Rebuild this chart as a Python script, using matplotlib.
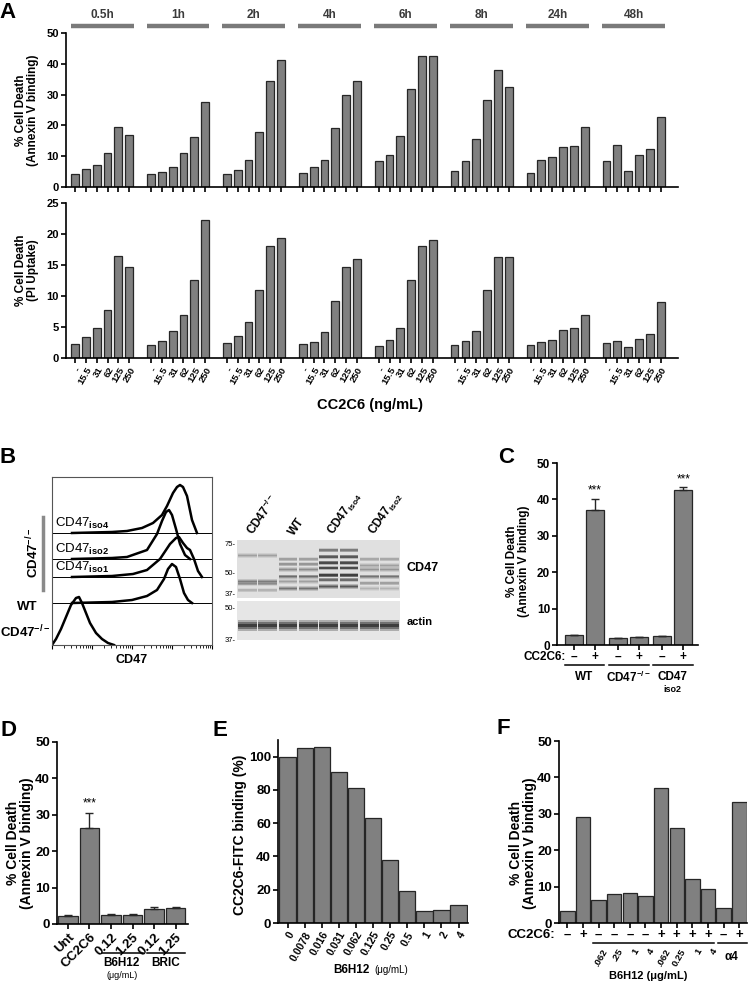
import numpy as np
import matplotlib
matplotlib.use('Agg')
import matplotlib.pyplot as plt
from matplotlib.transforms import blended_transform_factory as blend

plt.rcParams['font.family'] = ['Liberation Sans', 'DejaVu Sans']
plt.rcParams['font.weight'] = 'bold'
plt.rcParams['axes.linewidth'] = 1.2
plt.rcParams['mathtext.fontset'] = 'custom'
plt.rcParams['mathtext.rm'] = 'Liberation Sans'
plt.rcParams['mathtext.bf'] = 'Liberation Sans:bold'

# ---- data ----
times = ['0.5h', '1h', '2h', '4h', '6h', '8h', '24h', '48h']
doses = ['-', '15.5', '31', '62', '125', '250']
annexin = [[4.1, 5.9, 7.3, 11.1, 19.6, 17.0],
           [4.1, 4.8, 6.5, 11.0, 16.2, 27.7],
           [4.3, 5.4, 8.7, 18.0, 34.4, 41.2],
           [4.5, 6.5, 8.7, 19.3, 29.9, 34.5],
           [8.3, 10.3, 16.6, 31.7, 42.4, 42.6],
           [5.1, 8.6, 15.5, 28.2, 38.1, 32.5],
           [4.5, 8.8, 9.7, 13.0, 13.4, 19.4],
           [8.4, 13.7, 5.3, 10.4, 12.2, 22.6]]
pi_uptake = [[2.3, 3.4, 4.9, 7.7, 16.4, 14.6],
             [2.1, 2.7, 4.4, 6.9, 12.6, 22.3],
             [2.5, 3.5, 5.8, 10.9, 18.1, 19.3],
             [2.2, 2.6, 4.2, 9.2, 14.6, 15.9],
             [1.9, 2.9, 4.8, 12.6, 18.0, 19.0],
             [2.1, 2.8, 4.4, 11.0, 16.3, 16.3],
             [2.1, 2.6, 2.9, 4.5, 4.8, 6.9],
             [2.5, 2.8, 1.8, 3.0, 3.9, 9.1]]

# flow histograms (x, height) per sample, baseline offsets
flow_base = [0, 42, 68, 86, 112]
flow_x = [[0, 4, 9, 14, 19, 24, 27, 30, 34, 38, 44, 50, 56, 62],
          [20, 60, 80, 95, 105, 112, 116, 120, 124, 128, 132, 136, 140],
          [20, 60, 81, 95, 108, 118, 124, 127, 131, 135, 138, 142, 146, 150],
          [20, 60, 75, 95, 105, 110, 114, 117, 120, 124, 128, 133, 138],
          [20, 60, 75, 90, 101, 110, 115, 121, 125, 128, 131, 135, 140, 145]]
flow_h = [[0, 6, 16, 28, 40, 47, 48, 42, 32, 22, 12, 6, 2, 0],
          [0, 1, 3, 7, 13, 24, 34, 39, 36, 24, 10, 3, 0],
          [0, 1, 3, 7, 18, 33, 39, 40, 34, 29, 27, 18, 6, 0],
          [0, 1, 2, 9, 25, 38, 47, 49, 44, 30, 15, 4, 0],
          [0, 1, 2, 5, 10, 18, 27, 40, 46, 48, 46, 37, 13, 0]]

# western blot bands
blot_lanes = [r'CD47$^{\mathbf{-/-}}$', 'WT', r'CD47$_{\mathrm{iso4}}$', r'CD47$_{\mathrm{iso2}}$']
band_lane = [0, 0, 0, 0, 1, 1, 1, 1, 1, 1, 2, 2, 2, 2, 2, 2, 2, 3, 3, 3, 3, 3, 3]
band_kda = [63, 44, 42.5, 39, 60, 56, 52, 47, 44, 40, 68, 62, 57, 53, 48, 45, 41, 60, 55, 52, 47, 43, 40]
band_level = [.3, .5, .3, .2, .3, .35, .4, .6, .3, .55, .5, .75, .85, .85, .95, .6, .75, .25, .3, .35, .55, .3, .2]
actin_kda = 42
actin_level = [0.9, 0.9, 0.9, 0.9]

# panel C
c_vals = [2.7, 37.0, 1.8, 2.1, 2.4, 42.7]
c_err = [0.15, 3.1, 0.1, 0.15, 0.15, 0.6]
c_pos = [0, 1, 2.1, 3.1, 4.2, 5.2]
c_signs = ['–', '+', '–', '+', '–', '+']

# panel D
d_labels = ['Unt', 'CC2C6', '0.12', '1.25', '0.12', '1.25']
d_vals = [2.2, 26.3, 2.6, 2.6, 4.0, 4.5]
d_err = [0.15, 4.3, 0.1, 0.1, 0.7, 0.25]

# panel E
e_labels = ['0', '0.0078', '0.016', '0.031', '0.062', '0.125', '0.25', '0.5', '1', '2', '4']
e_vals = [100, 105, 106, 91, 81, 63, 38, 19, 7, 8, 11]

# panel F
f_vals = [3.4, 29.0, 6.2, 8.0, 8.3, 7.4, 37.2, 26.1, 12.2, 9.3, 4.1, 33.2]
f_signs = ['–', '+', '–', '–', '–', '–', '+', '+', '+', '+', '–', '+']
f_conc = ['', '', '.062', '.25', '1', '4', '.062', '0.25', '1', '4', '', '']

W, H = 750, 985
fig = plt.figure(figsize=(7.5, 9.85), dpi=100)
BAR = '#808080'
EDGE = '#262626'


def box(x0, y0, x1, y1):
    return fig.add_axes([x0 / W, 1 - y1 / H, (x1 - x0) / W, (y1 - y0) / H])


def ftext(x, y, s, **kw):
    fig.text(x / W, 1 - y / H, s, **kw)


def style(ax, fs=8):
    ax.spines['top'].set_visible(False)
    ax.spines['right'].set_visible(False)
    ax.tick_params(direction='out', length=3.5, width=1.2, labelsize=fs, pad=1.5)


def under(ax, x, y, s, **kw):
    kw.setdefault('ha', 'center')
    ax.text(x, 1 - y / H, s, transform=blend(ax.transData, fig.transFigure),
            va='center', clip_on=False, **kw)


def uline(ax, x0, x1, y):
    ax.plot([x0, x1], [1 - y / H] * 2, transform=blend(ax.transData, fig.transFigure),
            color='k', lw=1.1, clip_on=False)


def band(ax, x0, kda, lev, spread):
    # soft band: a few stacked layers
    for f, a in [(1.0, 0.25), (0.65, 0.35), (0.35, 0.45)]:
        ax.fill_between([x0 + 0.04, x0 + 0.96], kda * (1 - spread * f), kda * (1 + spread * f),
                        color='k', alpha=lev * a, lw=0)


# ---- panel A ----
xa = [g * 7 + i for g in range(8) for i in range(6)]

axA1 = box(66, 33, 678, 187)
axA1.bar(xa, np.ravel(annexin), width=0.72, color=BAR, edgecolor=EDGE, linewidth=0.9)
axA1.set_xlim(-0.83, 55.6)
axA1.set_ylim(0, 50)
axA1.set_yticks(range(0, 51, 10))
axA1.set_xticks(xa)
axA1.set_xticklabels([])
style(axA1)
tr = blend(axA1.transData, axA1.transAxes)
for g, t in enumerate(times):
    axA1.plot([g * 7 - 0.4, g * 7 + 5.4], [1.047, 1.047], transform=tr, color='#7a7a7a',
              lw=3.2, solid_capstyle='butt', clip_on=False)
    axA1.text(g * 7 + 2.5, 1.115, t, transform=tr, ha='center', va='center',
              fontsize=8.5, color='#3a3a3a')

axA2 = box(66, 203, 678, 358)
axA2.bar(xa, np.ravel(pi_uptake), width=0.72, color=BAR, edgecolor=EDGE, linewidth=0.9)
axA2.set_xlim(-0.83, 55.6)
axA2.set_ylim(0, 25)
axA2.set_yticks(range(0, 26, 5))
axA2.set_xticks(xa)
axA2.set_xticklabels(doses * 8, rotation=60, ha='right', rotation_mode='anchor', fontsize=6.8)
style(axA2)
axA2.tick_params(axis='x', labelsize=6.8, pad=2)

ftext(370, 405, 'CC2C6 (ng/mL)', ha='center', va='center', fontsize=10.5)
ftext(27, 110, '% Cell Death\n(Annexin V binding)', rotation=90, ha='center', va='center',
      fontsize=8.5, linespacing=1.1)
ftext(27, 270, '% Cell Death\n(PI Uptake)', rotation=90, ha='center', va='center',
      fontsize=8.5, linespacing=1.1)

# ---- panel B: flow ----
axB = box(52, 477, 212, 645)
for base in flow_base[1:]:
    axB.axhline(base, color='k', lw=0.7)
for xs, hs, base in zip(flow_x, flow_h, flow_base):
    axB.plot(xs, np.array(hs) + base, color='k', lw=1.8)
axB.set_xlim(0, 160)
axB.set_ylim(0, 168)
axB.set_yticks([])
decades = [0, 40, 80, 120, 160]
minor = [d + 40 * np.log10(k) for d in decades[:-1] for k in range(2, 10)]
axB.set_xticks(decades)
axB.set_xticks(minor, minor=True)
axB.set_xticklabels([])
axB.tick_params(axis='x', which='major', length=3, width=0.8)
axB.tick_params(axis='x', which='minor', length=1.8, width=0.6)
for s in axB.spines.values():
    s.set_linewidth(0.8)
    s.set_color('#555555')
for lab, yb in zip([r'CD47$_{\mathrm{iso4}}$', r'CD47$_{\mathrm{iso2}}$', r'CD47$_{\mathrm{iso1}}$'],
                   flow_base[4:1:-1]):
    axB.text(3, yb + 2, lab, fontsize=9.5, fontweight='normal', ha='left', va='bottom')
ftext(132, 660, 'CD47', ha='center', va='center', fontsize=9)
ftext(33, 553, r'CD47$^{\mathbf{-/-}}$', rotation=90, ha='center', va='center', fontsize=9.5)
fig.add_artist(plt.Line2D([43 / W, 43 / W], [1 - 517 / H, 1 - 590 / H], color='#8a8a8a', lw=2.5))
ftext(27, 607, 'WT', ha='center', va='center', fontsize=9.5)
ftext(0, 632, r'CD47$^{\mathbf{-/-}}$', ha='left', va='center', fontsize=9.5)

# ---- panel B: blot ----
axW = box(237, 540, 400, 598)
axW.set_facecolor('#e0e0e0')
for lane, kda, lev in zip(band_lane, band_kda, band_level):
    for s in range(2):
        band(axW, lane * 2 + s, kda, lev, 0.03)
axW.set_yscale('log')
axW.set_ylim(35, 78.2)
axW.set_xlim(0, 8)
axW.set_xticks([])
axW.set_yticks([75, 50, 37])
axW.set_yticklabels(['75-', '50-', '37-'], fontsize=5.5, fontweight='normal')
axW.yaxis.set_minor_locator(plt.NullLocator())
axW.tick_params(axis='y', length=0, pad=1)
for s in axW.spines.values():
    s.set_visible(False)
for i, lab in enumerate(blot_lanes):
    axW.text(i * 2 + 0.9, 1.04, lab, transform=blend(axW.transData, axW.transAxes),
             rotation=55, ha='left', va='bottom', rotation_mode='anchor', fontsize=8.5)
axW.text(1.04, 0.52, 'CD47', transform=axW.transAxes, ha='left', va='center', fontsize=9)

axAct = box(237, 601, 400, 640)
axAct.set_facecolor('#e6e6e6')
for lane, lev in enumerate(actin_level):
    for s in range(2):
        band(axAct, lane * 2 + s, actin_kda, lev * 1.1, 0.05)
axAct.set_yscale('log')
axAct.set_ylim(36.7, 52.9)
axAct.set_xlim(0, 8)
axAct.set_xticks([])
axAct.set_yticks([50, 37])
axAct.set_yticklabels(['50-', '37-'], fontsize=5.5, fontweight='normal')
axAct.yaxis.set_minor_locator(plt.NullLocator())
axAct.tick_params(axis='y', length=0, pad=1)
for s in axAct.spines.values():
    s.set_visible(False)
axAct.text(1.04, 0.45, 'actin', transform=axAct.transAxes, ha='left', va='center', fontsize=8)

# ---- panel C ----
axC = box(557, 463, 698, 645)
axC.bar(c_pos, c_vals, width=0.85, color=BAR, edgecolor=EDGE, linewidth=0.9)
axC.errorbar(c_pos, c_vals, yerr=[[0] * 6, c_err], fmt='none', ecolor=EDGE, elinewidth=1,
             capsize=3, capthick=1)
axC.set_xlim(-0.81, 5.9)
axC.set_ylim(0, 50)
axC.set_yticks(range(0, 51, 10))
axC.set_xticks(c_pos)
axC.set_xticklabels([])
style(axC, fs=8.5)
for i in [1, 5]:
    axC.text(c_pos[i], c_vals[i] + c_err[i] + 0.6, '***', ha='center', va='bottom',
             fontsize=8.5, fontweight='normal')
under(axC, -0.4, 657, 'CC2C6:', fontsize=8.5, ha='right')
for p, s in zip(c_pos, c_signs):
    under(axC, p, 657, s, fontsize=8.5)
for k in range(3):
    uline(axC, c_pos[2 * k] - 0.45, c_pos[2 * k + 1] + 0.45, 665)
under(axC, 0.5, 677, 'WT', fontsize=8.5)
under(axC, 2.6, 677, r'CD47$^{\mathbf{-/-}}$', fontsize=8.5)
under(axC, 4.7, 677, 'CD47', fontsize=8.5)
under(axC, 4.7, 689, 'iso2', fontsize=6.5)
ftext(518, 561, '% Cell Death\n(Annexin V binding)', rotation=90, ha='center', va='center',
      fontsize=8.5, linespacing=1.1)

# ---- panel D ----
axD = box(57, 742, 188, 924)
axD.bar(range(6), d_vals, width=0.92, color=BAR, edgecolor=EDGE, linewidth=0.9)
axD.errorbar(range(6), d_vals, yerr=[[0] * 6, d_err], fmt='none', ecolor=EDGE, elinewidth=1,
             capsize=3, capthick=1)
axD.set_xlim(-0.51, 5.58)
axD.set_ylim(0, 50)
axD.set_yticks(range(0, 51, 10))
axD.set_xticks(range(6))
labs = axD.set_xticklabels(d_labels, rotation=45, ha='right', rotation_mode='anchor')
for lab, fs in zip(labs, [9, 9, 6.3, 6.3, 6.3, 6.3]):
    lab.set_fontsize(fs)
style(axD, fs=9.5)
axD.text(1, d_vals[1] + d_err[1] + 0.8, '***', ha='center', va='bottom', fontsize=8.5,
         fontweight='normal')
uline(axD, 1.58, 3.49, 953)
uline(axD, 3.67, 5.44, 953)
under(axD, 2.5, 963, 'B6H12', fontsize=8.5)
under(axD, 4.55, 963, 'BRIC', fontsize=8.5)
under(axD, 2.5, 976, '(μg/mL)', fontsize=6.5, fontweight='normal')
ftext(20, 843, '% Cell Death\n(Annexin V binding)', rotation=90, ha='center', va='center',
      fontsize=10, linespacing=1.05)

# ---- panel E ----
axE = box(278, 740, 468, 923)
axE.bar(range(11), e_vals, width=0.95, color=BAR, edgecolor=EDGE, linewidth=0.9)
axE.set_xlim(-0.56, 10.55)
axE.set_ylim(0, 110)
axE.set_yticks(range(0, 101, 20))
axE.set_xticks(range(11))
axE.set_xticklabels(e_labels, rotation=60, ha='right', rotation_mode='anchor', fontsize=7.5)
style(axE, fs=9.5)
axE.tick_params(axis='x', labelsize=7.5)
ftext(370, 970, 'B6H12', ha='right', va='center', fontsize=8.5)
ftext(374, 970, '(μg/mL)', ha='left', va='center', fontsize=7, fontweight='normal')
ftext(240, 835, 'CC2C6-FITC binding (%)', rotation=90, ha='center', va='center', fontsize=10)

# ---- panel F ----
axF = box(559, 741, 747, 923)
axF.bar(range(12), f_vals, width=0.93, color=BAR, edgecolor=EDGE, linewidth=0.9)
axF.set_xlim(-0.53, 11.49)
axF.set_ylim(0, 50)
axF.set_yticks(range(0, 51, 10))
axF.set_xticks(range(12))
axF.set_xticklabels([])
style(axF, fs=9.5)
under(axF, -0.75, 935, 'CC2C6:', fontsize=9.5, ha='right')
for i, s in enumerate(f_signs):
    under(axF, i, 935, s, fontsize=9.5)
uline(axF, 1.64, 9.35, 943)
uline(axF, 9.62, 11.5, 943)
trF = blend(axF.transData, fig.transFigure)
for i, c in enumerate(f_conc):
    if c:
        axF.text(i + 0.2, 1 - 947 / H, c, transform=trF, rotation=60, ha='right', va='top',
                 rotation_mode='anchor', fontsize=6.8, clip_on=False)
under(axF, 10.5, 957, 'α4', fontsize=8.5)
under(axF, 5.2, 976, 'B6H12 (μg/mL)', fontsize=8)
ftext(523, 843, '% Cell Death\n(Annexin V binding)', rotation=90, ha='center', va='center',
      fontsize=10, linespacing=1.05)

# ---- panel letters ----
for letter, x, y in [('A', 8, 13), ('B', 8, 458), ('C', 506, 457), ('D', 9, 730),
                     ('E', 220, 730), ('F', 503, 728)]:
    ftext(x, y, letter, ha='center', va='center', fontsize=16)

fig.savefig('out.png', dpi=100)
